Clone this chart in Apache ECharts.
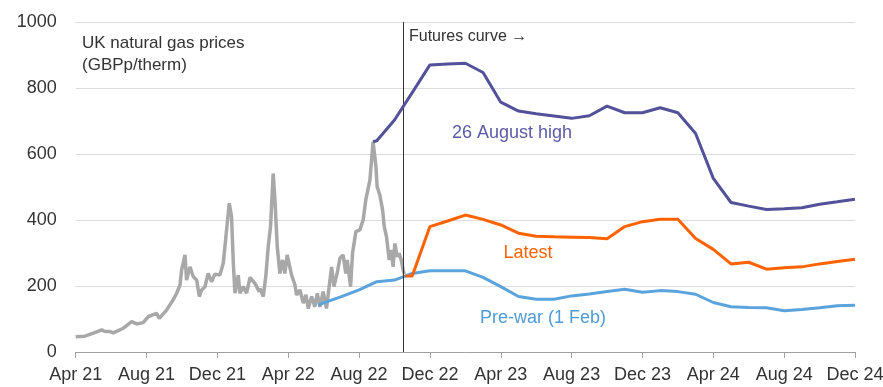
<!DOCTYPE html>
<html><head><meta charset="utf-8">
<script src="https://cdn.jsdelivr.net/npm/echarts@6/dist/echarts.min.js"></script>
<style>html,body{margin:0;padding:0;background:#fff}#c{width:883px;height:387px}</style>
</head><body><div id="c"></div>
<script>
// x values are months since Apr 2021 (0 = Apr 21, 44 = Dec 24)
const tickLabels = ['Apr 21','Aug 21','Dec 21','Apr 22','Aug 22','Dec 22','Apr 23','Aug 23','Dec 23','Apr 24','Aug 24','Dec 24'];
const yTicks = [0,200,400,600,800,1000];

const spotHistory = [
 [0,46],[0.52,48],[1.0,57],[1.47,67],[1.65,62],[1.94,62],[2.12,58],[2.69,72],[3.16,92],[3.44,85],[3.81,89],
 [4.1,107],[4.57,117],[4.72,102],[5.13,127],[5.5,158],[5.7,178],[5.89,203],[5.98,248],[6.17,294],[6.26,218],
 [6.45,258],[6.64,228],[6.83,218],[6.98,168],[7.11,188],[7.3,198],[7.48,238],[7.67,213],[7.86,236],[8.14,233],
 [8.33,269],[8.48,349],[8.67,451],[8.8,410],[8.9,269],[8.99,178],[9.18,233],[9.27,178],[9.46,198],[9.65,178],
 [9.84,226],[10.12,208],[10.36,183],[10.4,193],[10.59,168],[10.74,233],[10.87,319],[11.0,380],[11.15,541],
 [11.25,461],[11.38,319],[11.53,238],[11.68,279],[11.81,238],[11.94,294],[12.19,233],[12.38,203],[12.47,173],
 [12.66,188],[12.85,148],[13.0,173],[13.13,132],[13.32,168],[13.5,137],[13.64,178],[13.79,137],[13.97,183],
 [14.16,132],[14.31,198],[14.45,258],[14.58,198],[14.76,238],[14.92,284],[15.1,294],[15.25,238],[15.33,279],
 [15.52,198],[15.63,299],[15.82,365],[16.04,370],[16.23,400],[16.38,461],[16.61,521],[16.79,637],[16.95,562],
 [17.02,501],[17.17,476],[17.33,430],[17.42,380],[17.55,349],[17.7,279],[17.83,309],[17.92,258],[18.02,329],
 [18.15,289],[18.26,299],[18.38,279],[18.49,248],[18.55,236]
];
const augustHigh = [
 [16.79,637],[17,640],[18,703],[19,786],[20,870],[21,873],[22,875],[23,847],[24,757],[25,730],[26,722],[27,715],
 [28,708],[29,716],[30,745],[31,725],[32,725],[33,740],[34,725],[35,662],[36,526],[37,453],[38,442],[39,432],
 [40,434],[41,437],[42,448],[43,455],[44,463]
];
const latest = [
 [18.6,230],[19,230],[20,380],[21,397],[22,415],[23,402],[24,385],[25,360],[26,351],[27,349],[28,348],[29,347],
 [30,343],[31,380],[32,395],[33,402],[34,402],[35,344],[36,311],[37,267],[38,272],[39,251],[40,255],[41,258],
 [42,267],[43,274],[44,281]
];
const preWar = [
 [13.7,142],[14,149],[15,168],[16,188],[17,213],[18,218],[19,238],[20,246],[21,246],[22,246],[23,226],[24,198],
 [25,168],[26,160],[27,160],[28,170],[29,176],[30,183],[31,190],[32,181],[33,186],[34,183],[35,175],[36,150],
 [37,137],[38,135],[39,134],[40,125],[41,129],[42,134],[43,140],[44,142]
];
const futuresStart = 18.49;

const FONT = 'Liberation Sans, Arial, sans-serif';
const chart = echarts.init(document.getElementById('c'), null, {renderer:'canvas'});
chart.setOption({
  animation:false,
  grid:{left:75.7, right:28, top:22, bottom:35, containLabel:false, outerBoundsMode:'none'},
  xAxis:{type:'value', min:0, max:44, interval:4,
    axisLine:{show:true, lineStyle:{color:'#a0a0a0', width:1}},
    axisTick:{show:true, length:6, lineStyle:{color:'#a0a0a0'}},
    splitLine:{show:false},
    axisLabel:{fontFamily:FONT, fontSize:18, color:'#333', margin:14, hideOverlap:false,
      formatter:(v)=>tickLabels[Math.round(v/4)] || ''}
  },
  yAxis:{type:'value', min:yTicks[0], max:yTicks[yTicks.length-1], interval:200,
    axisLine:{show:false}, axisTick:{show:false},
    splitLine:{lineStyle:{color:'#dcdcdc', width:1}},
    axisLabel:{fontFamily:FONT, fontSize:18, color:'#333', margin:19, formatter:(v)=>String(v)}
  },
  series:[
    {type:'line', data:spotHistory, showSymbol:false, lineStyle:{color:'#a8a8a8', width:3.5}, z:2,
     markLine:{silent:true, symbol:'none', label:{show:false},
       lineStyle:{color:'#333', width:1, type:'solid'}, data:[{xAxis:futuresStart}]}},
    {type:'line', data:preWar, showSymbol:false, lineStyle:{color:'#5aa3dd', width:3}, z:3},
    {type:'line', data:latest, showSymbol:false, lineStyle:{color:'#ff6200', width:3}, z:4},
    {type:'line', data:augustHigh, showSymbol:false, lineStyle:{color:'#525199', width:3}, z:5}
  ],
  graphic:[
    {type:'text', left:82, top:32, style:{text:'UK natural gas prices\n(GBPp/therm)', font:'17px '+FONT, fill:'#333', lineHeight:22}},
    {type:'text', left:409, top:29, style:{text:'Futures curve \u2192', font:'16px '+FONT, fill:'#333'}},
    {type:'text', x:512, y:133, style:{text:'26 August high', font:'18px '+FONT, fill:'#5b5aa6', align:'center', verticalAlign:'middle'}},
    {type:'text', x:528, y:253, style:{text:'Latest', font:'18px '+FONT, fill:'#ff6200', align:'center', verticalAlign:'middle'}},
    {type:'text', x:543, y:318, style:{text:'Pre-war (1 Feb)', font:'18px '+FONT, fill:'#4f9bd6', align:'center', verticalAlign:'middle'}}
  ]
});
</script></body></html>
